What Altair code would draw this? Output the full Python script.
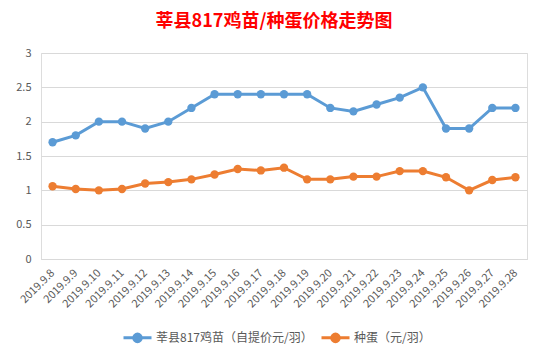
import altair as alt
import pandas as pd

dates = ["2019.9.%d" % d for d in range(8, 29)]
chick = [1.7, 1.8, 2.0, 2.0, 1.9, 2.0, 2.2, 2.4, 2.4, 2.4, 2.4, 2.4, 2.2, 2.15, 2.25, 2.35, 2.5, 1.9, 1.9, 2.2, 2.2]
egg = [1.06, 1.02, 1.0, 1.02, 1.1, 1.12, 1.16, 1.23, 1.31, 1.29, 1.33, 1.16, 1.16, 1.2, 1.2, 1.28, 1.28, 1.19, 1.0, 1.15, 1.19]
series = ["莘县817鸡苗（自提价元/羽）", "种蛋（元/羽）"]
colors = ["#5B9BD5", "#ED7D31"]

rows = []
for i, d in enumerate(dates):
    rows.append({"date": d, "series": series[0], "value": chick[i], "order": i})
    rows.append({"date": d, "series": series[1], "value": egg[i], "order": i})
df = pd.DataFrame(rows)

FONT = "Noto Sans CJK SC"
sym = "M-1,0H1M0.27,0A0.27,0.27,0,1,1,-0.27,0A0.27,0.27,0,1,1,0.27,0Z"

x = alt.X("date:O", sort=dates, title=None,
          axis=alt.Axis(labelAngle=-45, labelAlign="right", labelBaseline="middle",
                        labelFontSize=11, labelColor="#595959", labelFont=FONT,
                        domainColor="#D9D9D9", ticks=False, labelPadding=12))
y = alt.Y("value:Q", title=None, scale=alt.Scale(domain=[0, 3]),
          axis=alt.Axis(values=[0, 0.5, 1, 1.5, 2, 2.5, 3], labelFontSize=11,
                        labelColor="#595959", labelFont=FONT, domain=False, ticks=False,
                        gridColor="#D9D9D9", labelPadding=10, format="~g"))
color = alt.Color("series:N", scale=alt.Scale(domain=series, range=colors), title=None,
                  legend=alt.Legend(orient="none", legendX=81, legendY=269, direction="horizontal",
                                    symbolType=sym, symbolSize=784, symbolStrokeWidth=3,
                                    labelFontSize=12, labelColor="#595959", labelFont=FONT,
                                    labelLimit=400, columnPadding=2, labelOffset=3))

base = alt.Chart(df)
line = base.mark_line(strokeWidth=3).encode(x=x, y=y, color=color, order="order:Q")
pts = base.mark_circle(size=70, opacity=1).encode(x=x, y=y, color=color)

chart = (line + pts).properties(
    width=486, height=206,
    title=alt.TitleParams("莘县817鸡苗/种蛋价格走势图", fontSize=18, fontWeight="bold",
                          color="#FF0000", font=FONT, anchor="middle", dx=-10, offset=16),
    autosize=alt.AutoSizeParams(type="none"),
    padding={"left": 41, "top": 53, "right": 19, "bottom": 98},
).configure_view(stroke=None).configure(background="white")

chart.save("out.html", embed_options={"renderer": "svg", "actions": False})
